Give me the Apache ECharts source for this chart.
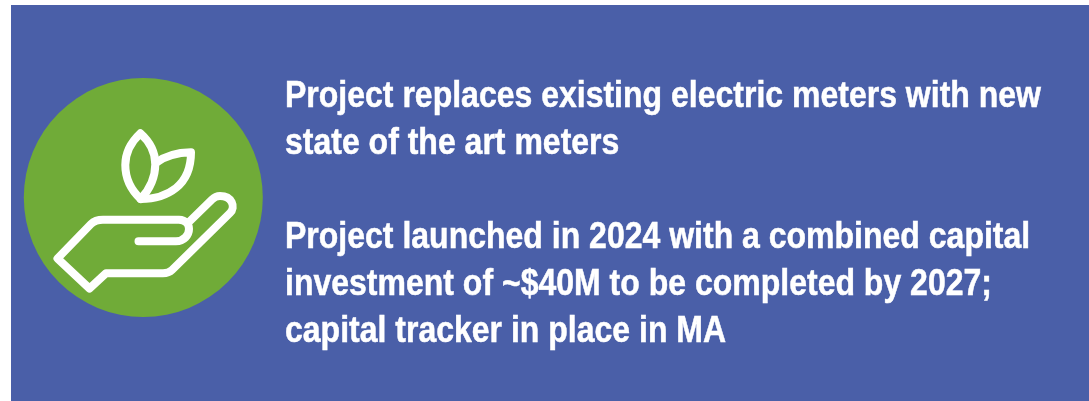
<!DOCTYPE html>
<html>
<head>
<meta charset="utf-8">
<style>
  html, body { margin: 0; padding: 0; background: #fff; }
  #main { width: 1089px; height: 401px; }
</style>
<script src="https://cdn.jsdelivr.net/npm/echarts@6/dist/echarts.min.js"></script>
</head>
<body>
<div id="main"></div>
<script>
// text of the panel, one entry per line
const textLines = [
  'Project replaces existing electric meters with new',
  'state of the art meters',
  'Project launched in 2024 with a combined capital',
  'investment of ~$40M to be completed by 2027;',
  'capital tracker in place in MA'
];
const lineTops = [79, 126, 220, 267, 314];

// icon outlines
const leafLeft = 'M140.3 133.3 C130 143 125.3 153 125.3 165 C125.3 178 131 190 140.7 199 C150 189 155.3 177 155.3 164 C155.3 152 150 142 140.3 133.3 Z';
const leafRight = 'M155.7 163 C165 156 178 152.5 191 152.3 C191 168 186 180 176 188 C166 196 153 199 140.7 199';
const hand = 'M138.5 241.3 L176 241.3 C184 241.3 189 235 189 229 C189 224 186 220 179 219.7 L103 219.7 C98 219.7 94 221 91 224 L57.5 258.5 L89.5 288.5 L106 273.3 L163 273.3 C168 273.3 170 272 172 270 L230 213 C236 207 232 196 220 196 C216 196 214 197.5 212 199.5 L190 221';

const iconStyle = {
  fill: 'none',
  stroke: '#ffffff',
  lineWidth: 8,
  lineCap: 'round',
  lineJoin: 'round'
};

echarts.graphic.registerShape('leafLeft', echarts.graphic.extendPath(leafLeft, {}));
echarts.graphic.registerShape('leafRight', echarts.graphic.extendPath(leafRight, {}));
echarts.graphic.registerShape('hand', echarts.graphic.extendPath(hand, {}));

const myChart = echarts.init(document.getElementById('main'), null, { renderer: 'canvas' });

const elements = [
  { type: 'rect', shape: { x: 11, y: 5, width: 1078, height: 396 }, style: { fill: '#4a5fa8' } },
  { type: 'circle', shape: { cx: 143.3, cy: 197.5, r: 119.5 }, style: { fill: '#70ab38' } },
  { type: 'leafLeft', style: iconStyle },
  { type: 'leafRight', style: iconStyle },
  { type: 'hand', style: iconStyle }
];

// the reference type is condensed and heavy, hence the scaleX and thin stroke
textLines.forEach((line, i) => {
  elements.push({
    type: 'text',
    x: 285,
    y: lineTops[i],
    scaleX: 0.889,
    style: {
      text: line,
      fill: '#ffffff',
      stroke: '#ffffff',
      lineWidth: 0.5,
      font: 'bold 36px "Liberation Sans", Arial, sans-serif'
    }
  });
});

myChart.setOption({
  animation: false,
  graphic: { elements: elements }
});
</script>
</body>
</html>
